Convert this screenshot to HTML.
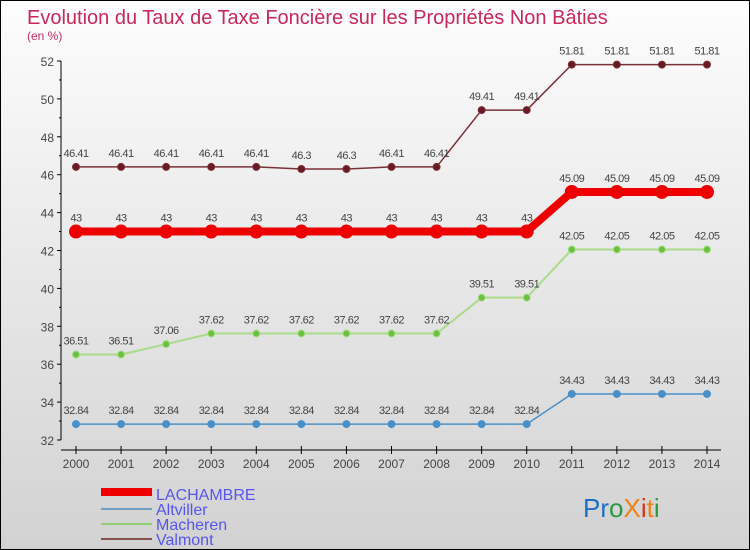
<!DOCTYPE html>
<html><head><meta charset="utf-8"><style>
body{margin:0}
#c{width:750px;height:550px;position:relative;box-sizing:border-box;border:1px solid #000;background:linear-gradient(#fdfdfd,#d2d2d2);font-family:"Liberation Sans",sans-serif;overflow:hidden}
</style></head><body>
<div id="c">
<svg id="s" width="750" height="550" style="position:absolute;left:0;top:0">
<text x="26" y="23" font-size="20" fill="#c8285a">Evolution du Taux de Taxe Foncière sur les Propriétés Non Bâties</text>
<text x="26" y="39" font-size="12" fill="#c8285a">(en %)</text>
<g id="axes"></g><g id="series"></g>
<rect x="100" y="487" width="51" height="8" fill="#e00"/>
<rect x="100" y="507" width="51" height="2" fill="#6fa0c8"/>
<rect x="100" y="522" width="51" height="2" fill="#90d070"/>
<rect x="100" y="537" width="51" height="2" fill="#8a5050"/>
<g font-size="16" fill="#5555ee">
<text x="155" y="499">LACHAMBRE</text>
<text x="155" y="514">Altviller</text>
<text x="155" y="529">Macheren</text>
<text x="155" y="544">Valmont</text>
</g>
<text x="582" y="516" font-size="26" font-family="Liberation Sans"><tspan fill="#1a70c8">Pr</tspan><tspan fill="#2a9a40">o</tspan><tspan fill="#f08010">X</tspan><tspan fill="#e03010">i</tspan><tspan fill="#f08010">t</tspan><tspan fill="#2a9a40">i</tspan></text>
</svg>
</div>
<script>
const years=[2000,2001,2002,2003,2004,2005,2006,2007,2008,2009,2010,2011,2012,2013,2014];
const yTicks=[32,34,36,38,40,42,44,46,48,50,52];
const lachambre=[43,43,43,43,43,43,43,43,43,43,43,45.09,45.09,45.09,45.09];
const altviller=[32.84,32.84,32.84,32.84,32.84,32.84,32.84,32.84,32.84,32.84,32.84,34.43,34.43,34.43,34.43];
const macheren=[36.51,36.51,37.06,37.62,37.62,37.62,37.62,37.62,37.62,39.51,39.51,42.05,42.05,42.05,42.05];
const valmont=[46.41,46.41,46.41,46.41,46.41,46.3,46.3,46.41,46.41,49.41,49.41,51.81,51.81,51.81,51.81];
const NS="http://www.w3.org/2000/svg";
const xS=i=>75+i*(706-75)/(years.length-1);
const yS=v=>439-(v-32)*(439-60)/20;
function mk(t,a,p){const e=document.createElementNS(NS,t);for(const k in a)e.setAttribute(k,a[k]);p.appendChild(e);return e;}
const ax=document.getElementById('axes');
const yl=mk('line',{x1:60,y1:60,x2:60,y2:439,stroke:'#000'},ax);


const xl=mk('line',{x1:60,y1:449,x2:720,y2:449,stroke:'#000'},ax);


yTicks.forEach(v=>{
 mk('line',{x1:56,x2:60,y1:yS(v),y2:yS(v),stroke:'#000'},ax);
 if(v<52)mk('line',{x1:58,x2:60,y1:yS(v+1),y2:yS(v+1),stroke:'#000'},ax);
 const t=mk('text',{x:53,y:yS(v)+5,'text-anchor':'end','font-size':12,fill:'#444'},ax);
 t.textContent=v;
 
 
});
years.forEach((y,i)=>{
 mk('line',{x1:xS(i),x2:xS(i),y1:445,y2:453,stroke:'#000'},ax);
 const t=mk('text',{x:xS(i),y:467,'text-anchor':'middle','font-size':12,fill:'#444'},ax);
 t.textContent=y;
 
 
});
const sg=document.getElementById('series');
function draw(name,vals,col,dot,w,r){
 const g=mk('g',{},sg);
 
 
 const p=mk('polyline',{points:vals.map((v,i)=>xS(i)+','+yS(v)).join(' '),fill:'none',stroke:col,'stroke-width':w},g);
 
 
 vals.forEach((v,i)=>{
  const c=mk('circle',{cx:xS(i),cy:yS(v),r:r,fill:dot,stroke:col,'stroke-width':1},g);
  
  
  const t=mk('text',{x:xS(i),y:yS(v)-10,'text-anchor':'middle','font-size':11,fill:'#444','letter-spacing':'-0.5'},g);
  t.textContent=String(v).replace(/^(\d+)\.(\d)$/,'$1.$2');
  
  
 });
}
draw('altviller',altviller,'#4a90c8','#4a90c8',1.5,3.5);
draw('macheren',macheren,'#a8dc88','#6cc040',2,3.5);
draw('valmont',valmont,'#7a3038','#6a1a22',1.5,3.5);
draw('lachambre',lachambre,'#ee0000','#ee0000',8,6.5);
</script>
</body></html>
